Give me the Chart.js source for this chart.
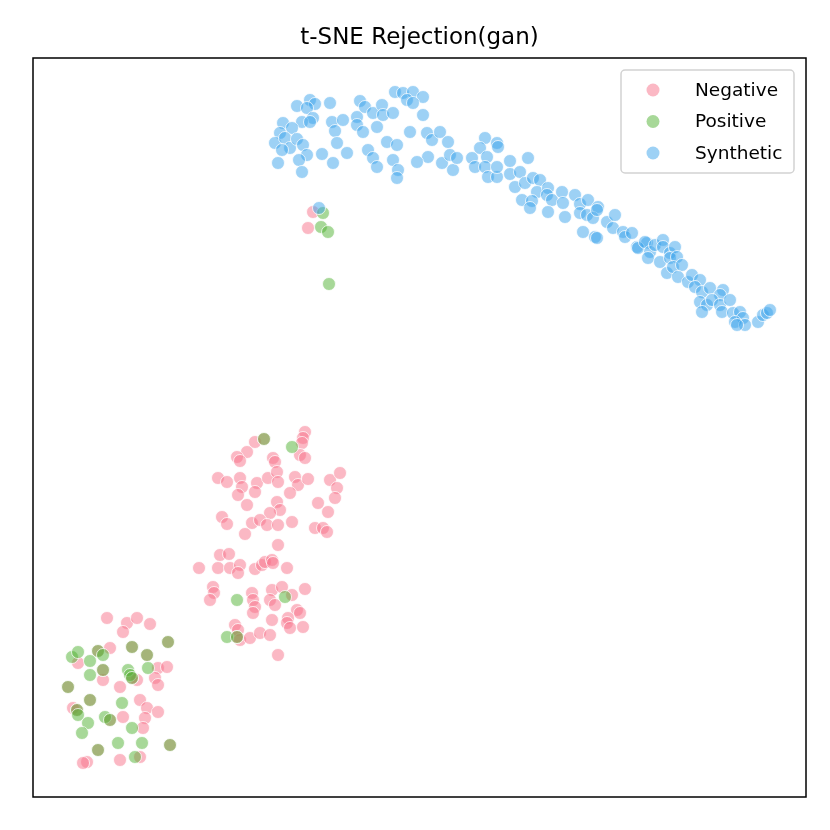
<!DOCTYPE html>
<html>
<head>
<meta charset="utf-8">
<script src="https://cdn.jsdelivr.net/npm/chart.js@4.4.1/dist/chart.umd.min.js"></script>
<style>
  html, body { margin: 0; padding: 0; background: #ffffff; }
  #wrap { width: 830px; height: 830px; }
</style>
</head>
<body>
<div id="wrap"><canvas id="tsneChart" width="830" height="830"></canvas></div>
<script>
// Data Definitions (embedding coordinates, y grows downwards)
const seriesNames = ['Negative', 'Positive', 'Synthetic'];

const negativePoints = [
    [313, 212], [308, 228],
    [305, 432], [303, 438], [302, 443], [255, 442], [247, 452], [237, 457], [240, 461], [273, 458], [275, 462], [300, 455], [305, 458],
    [218, 478], [227, 482], [240, 478], [242, 487], [257, 483], [255, 492], [268, 478], [277, 472], [278, 482], [295, 477], [298, 485],
    [308, 479], [330, 480], [340, 473], [337, 488], [335, 498], [318, 503], [328, 512],
    [238, 495], [247, 505], [290, 493], [277, 502], [280, 510], [270, 513], [222, 517], [227, 524], [252, 523], [260, 520], [267, 525],
    [278, 525], [292, 522], [245, 534], [315, 528], [323, 528], [327, 532], [278, 545],
    [220, 555], [229, 554], [199, 568], [218, 568], [230, 568], [240, 565], [238, 573], [255, 569], [262, 565], [265, 562], [272, 560],
    [273, 563], [287, 568],
    [213, 587], [214, 593], [210, 600], [252, 593], [253, 600], [255, 607], [253, 613], [272, 590], [282, 587], [292, 595], [305, 589],
    [270, 600], [275, 605], [297, 610], [300, 613], [288, 618], [287, 623], [290, 628], [303, 627], [272, 620],
    [235, 625], [238, 630], [240, 640], [250, 638], [260, 633], [270, 635], [278, 655], [264, 439], [237, 637],
    [107, 618], [127, 623], [137, 618], [150, 624], [123, 632], [110, 648], [78, 663], [158, 668], [167, 667], [103, 680], [137, 680],
    [120, 687], [155, 678], [158, 685], [140, 700], [73, 708], [147, 708], [158, 712], [145, 718], [123, 717], [143, 728],
    [87, 762], [83, 763], [120, 760], [140, 757],
    [168, 642], [132, 647], [98, 651], [147, 655], [103, 670], [132, 678], [68, 687], [90, 700], [77, 710], [110, 720], [98, 750], [170, 745]
];

const positivePoints = [
    [323, 213], [321, 227], [328, 232], [329, 284],
    [264, 439], [292, 447], [237, 600], [285, 597], [227, 637], [237, 637],
    [168, 642], [132, 647], [98, 651], [103, 655], [72, 657], [78, 652], [90, 661], [147, 655], [148, 668], [90, 675], [103, 670],
    [128, 670], [130, 675], [132, 678], [68, 687], [90, 700], [122, 703], [77, 710], [78, 715], [105, 717], [110, 720], [88, 723],
    [132, 728], [82, 733], [98, 750], [118, 743], [142, 743], [170, 745], [135, 757]
];

const syntheticPoints = [
    [319, 208],
    [310, 100], [315, 104], [297, 106], [307, 108], [330, 103], [313, 118], [302, 122], [310, 122], [283, 123], [292, 128], [280, 133],
    [275, 143], [285, 138], [290, 148], [297, 139], [303, 145], [282, 150], [307, 155], [299, 160], [278, 163], [302, 172], [322, 154],
    [332, 122], [335, 131], [343, 120], [337, 143], [347, 153], [333, 163], [357, 117], [360, 101], [365, 107], [373, 113], [382, 105],
    [383, 115], [393, 113], [357, 125], [363, 132], [377, 127], [368, 150], [373, 158], [377, 167], [387, 142], [397, 145], [393, 160],
    [398, 170], [397, 178], [395, 92], [403, 93], [413, 92], [423, 97], [407, 100], [413, 103], [423, 115], [410, 132], [427, 133],
    [432, 140], [440, 132], [448, 142], [428, 157], [417, 162], [442, 163], [450, 155], [453, 170], [457, 158],
    [485, 138], [480, 148], [497, 143], [498, 147], [472, 158], [475, 167], [487, 157], [485, 167], [488, 177], [497, 177], [497, 167],
    [510, 161], [528, 158], [510, 174], [520, 172], [515, 187], [525, 183], [533, 178], [540, 180], [537, 192], [548, 188], [547, 195],
    [522, 200], [532, 201], [530, 208], [552, 200], [562, 192], [563, 203], [548, 212], [565, 217], [575, 195], [580, 204], [588, 200],
    [598, 207], [580, 213], [587, 215], [593, 218], [597, 210], [583, 232], [595, 237], [597, 238], [607, 222], [615, 215], [613, 228],
    [623, 232], [625, 237], [632, 233], [637, 247], [647, 243],
    [638, 248], [645, 242], [650, 252], [655, 245], [663, 240], [663, 247], [670, 253], [675, 247], [648, 258], [660, 262], [670, 258],
    [677, 257], [667, 273], [673, 267], [682, 265], [678, 277], [688, 282], [692, 275], [700, 280], [695, 287], [702, 292], [710, 288],
    [723, 290], [720, 295], [700, 302], [707, 305], [702, 312], [712, 300], [720, 305], [722, 312], [730, 300], [733, 313], [740, 312],
    [743, 318], [735, 322], [745, 325], [737, 325], [758, 322], [763, 315], [767, 313], [770, 310]
];

// Axis ranges of the embedding
const xRange = [33, 806];
const yRange = [58, 797];

// husl palette, drawn with alpha 0.5
const fillColors = ['rgba(247, 113, 137, 0.5)', 'rgba(80, 177, 49, 0.5)', 'rgba(59, 163, 236, 0.5)'];

const FONT = '"DejaVu Sans", sans-serif';

function toXY(points) {
    return points.map(p => ({ x: p[0], y: p[1] }));
}

// Frame + legend box drawn on top of the plot
const framePlugin = {
    id: 'frameAndLegend',
    afterDraw(chart) {
        const ctx = chart.ctx;
        const area = chart.chartArea;
        ctx.save();
        ctx.strokeStyle = '#000000';
        ctx.lineWidth = 1.5;
        ctx.strokeRect(area.left, area.top, area.right - area.left, area.bottom - area.top);

        // legend box
        const bx = 621, by = 70, bw = 173, bh = 103, r = 4;
        ctx.beginPath();
        ctx.roundRect(bx, by, bw, bh, r);
        ctx.fillStyle = 'rgba(255, 255, 255, 0.8)';
        ctx.fill();
        ctx.strokeStyle = '#d2d2d2';
        ctx.lineWidth = 1.5;
        ctx.stroke();

        ctx.font = '18.5px ' + FONT;
        ctx.textBaseline = 'middle';
        ctx.textAlign = 'left';
        chart.data.datasets.forEach((ds, i) => {
            const y = 90 + i * 31.5;
            ctx.beginPath();
            ctx.arc(653, y, 6.5, 0, Math.PI * 2);
            ctx.fillStyle = ds.backgroundColor;
            ctx.fill();
            ctx.fillStyle = '#000000';
            ctx.fillText(ds.label, 695, y + 1);
        });
        ctx.restore();
    }
};

const ctx = document.getElementById('tsneChart').getContext('2d');
new Chart(ctx, {
    type: 'scatter',
    data: {
        datasets: [
            {
                label: seriesNames[0],
                data: toXY(negativePoints),
                backgroundColor: fillColors[0],
                order: 3
            },
            {
                label: seriesNames[1],
                data: toXY(positivePoints),
                backgroundColor: fillColors[1],
                order: 2
            },
            {
                label: seriesNames[2],
                data: toXY(syntheticPoints),
                backgroundColor: fillColors[2],
                order: 1
            }
        ]
    },
    options: {
        responsive: false,
        animation: false,
        layout: {
            padding: { left: 33, right: 24, top: 0, bottom: 33 }
        },
        elements: {
            point: {
                radius: 6.5,
                borderWidth: 1,
                borderColor: 'rgba(255, 255, 255, 0.75)',
                pointStyle: 'circle'
            }
        },
        scales: {
            x: { type: 'linear', min: xRange[0], max: xRange[1], display: false },
            y: { type: 'linear', min: yRange[0], max: yRange[1], reverse: true, display: false }
        },
        plugins: {
            legend: { display: false },
            tooltip: { enabled: false },
            title: {
                display: true,
                text: 't-SNE Rejection(gan)',
                color: '#000000',
                font: { family: FONT, size: 23, weight: 'normal', lineHeight: 1.2 },
                padding: { top: 24, bottom: 6.4 }
            }
        }
    },
    plugins: [framePlugin]
});
</script>
</body>
</html>
